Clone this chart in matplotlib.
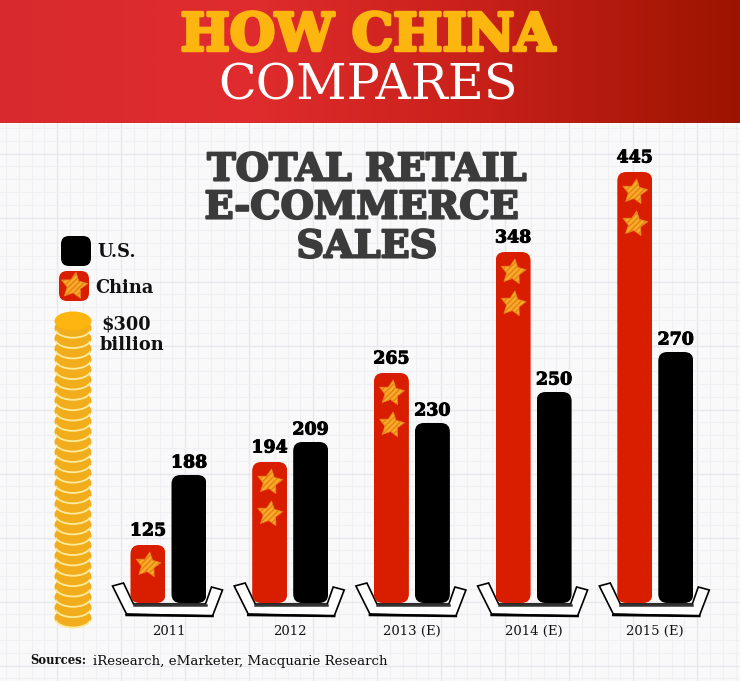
import numpy as np
import matplotlib
matplotlib.use("Agg")
import matplotlib.pyplot as plt
import matplotlib.patheffects as pe
from matplotlib.patches import FancyBboxPatch, Ellipse, Polygon, Arc
from matplotlib.colors import LinearSegmentedColormap

years = ["2011", "2012", "2013 (E)", "2014 (E)", "2015 (E)"]
china = [125, 194, 265, 348, 445]
us = [188, 209, 230, 250, 270]
china_stars = [1, 2, 2, 2, 2]

W, H = 740, 681
BASE = 603
RED, BLACK, GOLD = "#d91e00", "#000000", "#f2ad1c"
SERIF = "DejaVu Serif"

# The source graphic is not drawn to a linear scale: calibrate value -> bar height in px
cal_v = np.array([0, 125, 188, 194, 209, 230, 250, 265, 270, 348, 445, 600.0])
cal_h = np.array([0, 58, 128, 141, 161, 180, 211, 230, 251, 351, 431, 603.0])
fwd = lambda v: np.interp(v, cal_v, cal_h)
inv = lambda h: np.interp(h, cal_h, cal_v)

def bolder(w, c):
    return [pe.withStroke(linewidth=w, foreground=c)]

fig = plt.figure(figsize=(W / 100, H / 100), dpi=100, facecolor="#f9f9fa")

# background layer in pixel coordinates
bg = fig.add_axes([0, 0, 1, 1], zorder=0)
bg.set_xlim(0, W); bg.set_ylim(H, 0); bg.axis("off")
STEP = 12.8
for n, x in enumerate(np.arange(6, W, STEP)):
    major = n % 5 == 4
    bg.axvline(x, color="#e6e8ec" if major else "#eff0f3", lw=1.0 if major else 0.8, zorder=0)
for n, y in enumerate(np.arange(128, H, STEP)):
    major = n % 5 == 2
    bg.axhline(y, color="#e6e8ec" if major else "#eff0f3", lw=1.0 if major else 0.8, zorder=0)
cmap = LinearSegmentedColormap.from_list("hdr", ["#d82a2e", "#e02c2e", "#c62018", "#9c1400"])
bg.imshow(np.linspace(0, 1, 256).reshape(1, -1), cmap=cmap, extent=(0, W, 123, 0),
          aspect="auto", zorder=1)
bg.set_xlim(0, W); bg.set_ylim(H, 0)

bg.text(368, 36, "HOW CHINA", color="#fdb50f", family=SERIF, weight="bold", size=37.5,
        ha="center", va="center", zorder=2, path_effects=bolder(2.5, "#fdb50f"))
bg.text(368, 86, "COMPARES", color="white", family=SERIF, size=35.5,
        ha="center", va="center", zorder=2)
for txt, x, y in [("TOTAL RETAIL", 367, 170), ("E-COMMERCE", 362, 208), ("SALES", 367, 247)]:
    bg.text(x, y, txt, color="#3b3b3b", family=SERIF, weight="bold", size=27.5,
            ha="center", va="center", zorder=2, path_effects=bolder(1.5, "#3b3b3b"))

# trays
tray = np.array([(-56, -17), (-45, -20), (-35, 1), (37, 1), (43, -16), (54, -13), (44, 13), (-42, 11)])
for i in range(len(years)):
    cx = 168.5 + 121.7 * i
    bg.add_patch(Polygon(tray + [cx, BASE], closed=True, fc="white", ec="black", lw=1.2, zorder=3))
    bg.plot([cx - 42, cx + 44], [BASE + 12, BASE + 13], color="black", lw=1.8, zorder=3)
    bg.plot([cx - 35, cx + 37], [BASE + 1.5, BASE + 1.5], color="#333333", lw=1.8, zorder=3)

# coin stack
for y in np.arange(618, 325, -10.35):
    bg.add_patch(Ellipse((73, y), 37, 20, fc=GOLD, ec="none", zorder=3))
    bg.add_patch(Arc((73, y), 36, 19, theta1=8, theta2=172, ec="#fdeb9c", lw=1.3, zorder=3))
bg.add_patch(Ellipse((73, 321), 37, 19, fc="#fdb50f", ec="none", zorder=3))

# bars on a real value scale
ax = fig.add_axes([0, (H - BASE) / H, 1, BASE / H], zorder=2)
ax.patch.set_alpha(0)
ax.set_yscale("function", functions=(fwd, inv))
ax.set_xlim(-168.5 / 121.7, (W - 168.5) / 121.7)
ax.set_ylim(0, 600)
for s in ax.spines.values():
    s.set_visible(False)
ax.set_yticks([]); ax.minorticks_off()
ax.tick_params(axis="y", which="both", left=False, labelleft=False)
idx = np.arange(len(years))
ax.set_xticks(idx, years, family=SERIF, size=9.5, color="#111111")
ax.tick_params(axis="x", length=0, pad=16)

off = 20.5 / 121.7
bw = 35 / 121.7
bars_c = ax.bar(idx - off, china, bw, color=RED, zorder=2)
bars_u = ax.bar(idx + off, us, bw, color=BLACK, zorder=2)

# overlay in pixels, for things anchored to the bars
pix = fig.add_axes([0, 0, 1, 1], zorder=3)
pix.set_xlim(0, W); pix.set_ylim(H, 0); pix.axis("off")

def to_px(x, v):
    return pix.transData.inverted().transform(ax.transData.transform((x, v)))

def star(x, y, ms=19):
    pix.scatter([x], [y], marker=(5, 1, -8), s=ms ** 2, c="#f9ab25", edgecolors="#e5811a",
                linewidths=0.5, hatch="//////", zorder=5)

for bars in (bars_c, bars_u):
    for b in bars:
        x0, top = to_px(b.get_x(), b.get_height())
        x1, bot = to_px(b.get_x() + b.get_width(), 0)
        r = 9
        clip = FancyBboxPatch((x0 + r, top + r), x1 - x0 - 2 * r, bot - top - 2 * r,
                              boxstyle=f"round,pad={r},rounding_size={r}",
                              transform=pix.transData)
        b.set_clip_path(clip)

val = dict(family=SERIF, weight="bold", size=12.5, ha="center", va="center",
           path_effects=bolder(0.7, "black"))
for i, (b, v) in enumerate(zip(bars_c, china)):
    px, top = to_px(b.get_x() + b.get_width() / 2, v)
    pix.text(px, top - 14, str(v), **val)
    for k in range(china_stars[i]):
        star(px, top + 20 + 32 * k)
for b, v in zip(bars_u, us):
    px, top = to_px(b.get_x() + b.get_width() / 2, v)
    pix.text(px, top - 12, str(v), **val)

# legend
for x, y, c in [(61, 236, BLACK), (59, 271, RED)]:
    pix.add_patch(FancyBboxPatch((x + 8, y + 8), 14, 14, boxstyle="round,pad=8,rounding_size=8",
                                 fc=c, ec="none", zorder=4))
star(74, 286, 20)
lab = dict(family=SERIF, weight="bold", size=12.8, va="center", color="#111111")
pix.text(97, 252, "U.S.", **lab)
pix.text(95, 288, "China", **lab)
pix.text(101, 324, "$300", **lab)
pix.text(100, 345, "billion", **lab)

# source
pix.text(30, 661, "Sources:", family=SERIF, weight="bold", size=8.4, va="center", color="#111111")
pix.text(93, 661, "iResearch, eMarketer, Macquarie Research", family=SERIF, size=9.6,
         va="center", color="#111111")

fig.savefig("out.png", dpi=100, facecolor=fig.get_facecolor())
